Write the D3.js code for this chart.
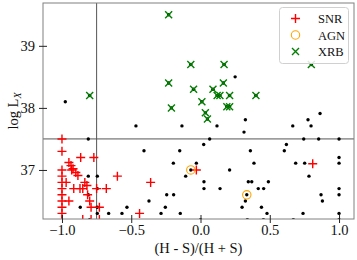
<!DOCTYPE html>
<html>
<head>
<meta charset="utf-8">
<script src="https://cdn.jsdelivr.net/npm/d3@7"></script>
<style>
  body { margin: 0; background: #fff; }
  text { font-family: "Liberation Serif", "DejaVu Serif", serif; }
</style>
</head>
<body>
<script>
// hardness ratio vs log Lx, sources marked by class
// unclassified sources (black dots), [hr, logLx]
const otherSrc = [
  [-0.976, 38.10], [0.25, 38.50], [0.863, 37.91],
  [0.324, 37.81], [0.119, 37.71], [0.314, 37.61], [0.666, 37.71], [0.776, 37.81], [0.798, 37.71],
  [-0.466, 37.71], [-0.134, 37.71],
  [0.066, 37.5], [0.745, 37.5], [0.853, 37.5], [1.0, 37.5], [-0.81, 37.5],
  [0.023, 37.41], [0.62, 37.41],
  [0.605, 37.31], [0.36, 37.31], [-0.408, 37.31], [-0.15, 37.31],
  [1.0, 37.2],
  [1.0, 37.11], [-0.03, 37.11], [0.386, 37.11], [0.687, 37.11], [0.752, 37.11], [-0.196, 37.11],
  [0.21, 37.0],
  [-0.107, 36.9], [0.783, 36.9], [-0.81, 36.9], [-0.745, 36.9],
  [0.025, 36.81], [0.345, 36.81], [0.37, 36.81], [0.49, 36.81],
  [0.025, 36.7], [0.141, 36.7], [0.417, 36.7], [0.456, 36.7], [1.0, 36.7], [-0.745, 36.7],
  [1.0, 36.6], [0.87, 36.6], [-0.244, 36.6], [-0.194, 36.6], [-0.81, 36.6],
  [0.324, 36.5], [0.88, 36.5], [-0.372, 36.5],
  [0.30, 36.4], [0.44, 36.4], [-0.254, 36.4], [-0.531, 36.4], [-0.868, 36.4], [-0.745, 36.4],
  [0.48, 36.3], [0.74, 36.3], [1.0, 36.3], [-0.663, 36.3], [-0.567, 36.3], [-0.285, 36.3], [-0.146, 36.3], [-0.745, 36.3],
  [0.0, 36.2], [0.338, 36.2], [0.454, 36.2], [0.67, 36.2], [1.0, 36.2], [-0.80, 36.2]
];

const snr = [
  [-1.0, 37.5], [-1.0, 37.3], [-0.865, 37.2], [-0.77, 37.2],
  [-0.95, 37.12], [-0.935, 37.07], [-0.92, 37.02], [-0.90, 36.96], [-0.885, 36.91],
  [-1.0, 37.0], [-0.93, 37.0], [-1.0, 36.9], [-0.6, 36.9], [-0.36, 36.8],
  [-1.0, 36.8], [-0.97, 36.8], [-0.835, 36.8], [-0.82, 36.75],
  [-1.0, 36.7], [-0.915, 36.7], [-0.87, 36.7], [-0.85, 36.7], [-0.75, 36.7], [-0.68, 36.7],
  [-1.0, 36.6], [-0.815, 36.6],
  [-1.0, 36.5], [-0.95, 36.5], [-0.80, 36.5],
  [-1.0, 36.4], [-0.79, 36.4], [-0.73, 36.4],
  [-1.0, 36.3], [-0.44, 36.3],
  [-1.0, 36.2], [-0.85, 36.2], [-0.79, 36.2], [-0.73, 36.2],
  [-0.03, 37.0], [0.81, 37.1]
];

const agn = [[-0.07, 37.0], [0.334, 36.6]];

const xrb = [
  [-0.80, 38.20], [-0.23, 39.50], [-0.07, 38.70], [-0.23, 38.40], [-0.05, 38.30],
  [-0.21, 38.00], [0.01, 38.10], [0.17, 38.70], [0.80, 38.70], [0.165, 38.40],
  [0.09, 38.30], [0.12, 38.20], [0.14, 38.20], [0.21, 38.20], [0.40, 38.20],
  [0.19, 38.02], [0.21, 38.02], [0.035, 37.92], [0.05, 37.82]
];

const xTicks = [-1.0, -0.5, 0.0, 0.5, 1.0];
const yTicks = [37, 38, 39];
const cutX = -0.75;
const cutY = 37.5;
const legendNames = ['SNR', 'AGN', 'XRB'];

const W = 357, H = 260;
const mLeft = 43, mRight = 354, mTop = 3, mBottom = 219;

const x = d3.scaleLinear().domain([-1.137, 1.108]).range([mLeft, mRight]);
const y = d3.scaleLinear().domain([36.21, 39.69]).range([mBottom, mTop]);

const svg = d3.select('body').append('svg')
  .attr('width', W).attr('height', H);

svg.append('clipPath').attr('id', 'clip')
  .append('rect').attr('x', mLeft).attr('y', mTop)
  .attr('width', mRight - mLeft).attr('height', mBottom - mTop);

const plot = svg.append('g').attr('clip-path', 'url(#clip)');

// cut lines
plot.append('line')
  .attr('x1', x(cutX)).attr('x2', x(cutX)).attr('y1', mTop).attr('y2', mBottom)
  .attr('stroke', '#555').attr('stroke-width', 1);
plot.append('line')
  .attr('x1', mLeft).attr('x2', mRight).attr('y1', y(cutY)).attr('y2', y(cutY))
  .attr('stroke', '#555').attr('stroke-width', 1);

// all sources as black dots
const allDots = otherSrc.concat(agn, xrb);
plot.selectAll('circle.dot')
  .data(allDots)
  .enter().append('circle')
  .attr('class', 'dot')
  .attr('cx', d => x(d[0]))
  .attr('cy', d => y(d[1]))
  .attr('r', 1.7)
  .attr('fill', '#000');

const plusPath = 'M-4.5,0H4.5M0,-4.5V4.5';
const xPath = 'M-3.5,-3.5L3.5,3.5M-3.5,3.5L3.5,-3.5';

plot.selectAll('path.snr')
  .data(snr)
  .enter().append('path')
  .attr('class', 'snr')
  .attr('d', plusPath)
  .attr('transform', d => `translate(${x(d[0])},${y(d[1])})`)
  .attr('stroke', 'red').attr('stroke-width', 1.4).attr('fill', 'none');

plot.selectAll('circle.agn')
  .data(agn)
  .enter().append('circle')
  .attr('class', 'agn')
  .attr('cx', d => x(d[0]))
  .attr('cy', d => y(d[1]))
  .attr('r', 4.2)
  .attr('fill', 'none').attr('stroke', 'orange').attr('stroke-width', 1.1);

plot.selectAll('path.xrb')
  .data(xrb)
  .enter().append('path')
  .attr('class', 'xrb')
  .attr('d', xPath)
  .attr('transform', d => `translate(${x(d[0])},${y(d[1])})`)
  .attr('stroke', 'green').attr('stroke-width', 1.4).attr('fill', 'none');

// frame
svg.append('rect')
  .attr('x', mLeft).attr('y', mTop)
  .attr('width', mRight - mLeft).attr('height', mBottom - mTop)
  .attr('fill', 'none').attr('stroke', '#808080').attr('stroke-width', 1);

// axes, ticks cross the spine
const fmtX = d => d3.format('.1f')(d).replace('-', '\u2212');
const xAxis = d3.axisBottom(x).tickValues(xTicks).tickFormat(fmtX)
  .tickSizeInner(4).tickSizeOuter(0).tickPadding(2);
const gx = svg.append('g')
  .attr('transform', `translate(0,${mBottom})`)
  .call(xAxis);
gx.select('.domain').remove();
gx.selectAll('.tick line').attr('y1', -4).attr('y2', 4).attr('stroke', '#222');
gx.selectAll('.tick text')
  .attr('font-size', 14.5).attr('font-family', '"Liberation Serif", serif').attr('fill', '#111');

const yAxis = d3.axisLeft(y).tickValues(yTicks).tickFormat(d3.format('d'))
  .tickSizeInner(4).tickSizeOuter(0).tickPadding(4);
const gy = svg.append('g')
  .attr('transform', `translate(${mLeft},0)`)
  .call(yAxis);
gy.select('.domain').remove();
gy.selectAll('.tick line').attr('x1', -4).attr('x2', 4).attr('stroke', '#222');
gy.selectAll('.tick text')
  .attr('font-size', 14.5).attr('font-family', '"Liberation Serif", serif').attr('fill', '#111');

// axis titles
svg.append('text')
  .attr('x', (mLeft + mRight) / 2).attr('y', 253)
  .attr('text-anchor', 'middle')
  .attr('font-size', 14.5).attr('fill', '#111')
  .text('(H - S)/(H + S)');

const yl = svg.append('text')
  .attr('transform', `translate(18,${(mTop + mBottom) / 2}) rotate(-90)`)
  .attr('text-anchor', 'middle')
  .attr('font-size', 14.5).attr('fill', '#111');
yl.append('tspan').text('log L');
yl.append('tspan').attr('font-size', 10).attr('font-style', 'italic')
  .attr('dy', 3).text('X');

// legend
const lg = svg.append('g');
lg.append('rect')
  .attr('x', 279.5).attr('y', 7.5).attr('width', 69).attr('height', 56)
  .attr('rx', 3).attr('fill', 'white').attr('fill-opacity', 0.85)
  .attr('stroke', '#d0d0d0').attr('stroke-width', 1);
const rowY = d3.scalePoint().domain(legendNames).range([18.5, 51.5]);
const mx = 295.5;
lg.append('path').attr('d', plusPath)
  .attr('transform', `translate(${mx},${rowY('SNR')})`)
  .attr('stroke', 'red').attr('stroke-width', 1.4);
lg.append('circle').attr('cx', mx).attr('cy', rowY('AGN')).attr('r', 4.2)
  .attr('fill', 'none').attr('stroke', 'orange').attr('stroke-width', 1.1);
lg.append('path').attr('d', xPath)
  .attr('transform', `translate(${mx},${rowY('XRB')})`)
  .attr('stroke', 'green').attr('stroke-width', 1.4);
lg.selectAll('text.lab')
  .data(legendNames)
  .enter().append('text')
  .attr('class', 'lab')
  .attr('x', 318).attr('y', d => rowY(d) + 4.5)
  .attr('font-size', 12.5).attr('fill', '#111')
  .text(d => d);
</script>
</body>
</html>
